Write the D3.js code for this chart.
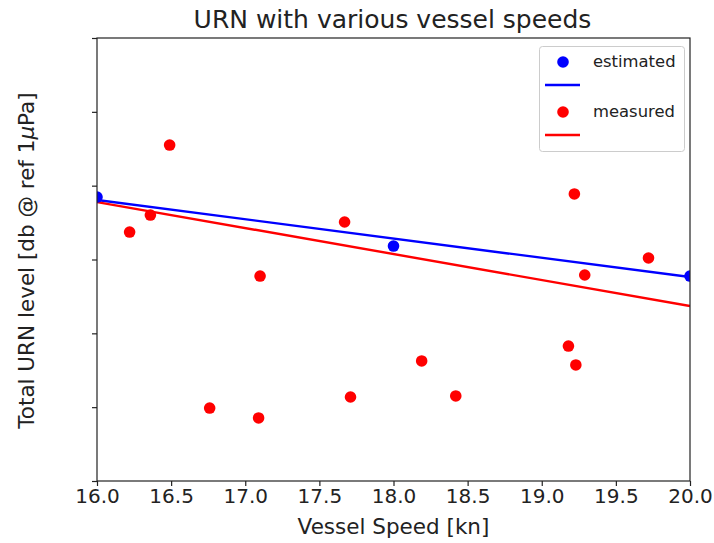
<!DOCTYPE html>
<html><head><meta charset="utf-8">
<script src="https://cdn.jsdelivr.net/npm/d3@7"></script>
<style>
body{margin:0;background:#fff;}
text{font-family:"DejaVu Sans",sans-serif;fill:#222;}
</style></head>
<body><svg id="c" width="714" height="543"></svg>
<script>
const estSpeed = [16.0, 18.0, 20.0];
const estLevel = [129.23, 125.91, 123.88];
const measSpeed = [16.22, 16.36, 16.49, 16.76, 17.09, 17.10, 17.67, 17.71, 18.19, 18.42, 19.18, 19.22, 19.23, 19.29, 19.72];
const measLevel = [126.86, 128.01, 132.75, 114.94, 114.27, 123.88, 127.54, 115.69, 118.13, 115.76, 119.14, 129.44, 117.86, 123.95, 125.10];
const estFitX = [16.0, 20.0];
const estFitY = [129.03, 123.81];
const measFitX = [16.0, 20.0];
const measFitY = [128.89, 121.85];
const xTicks = [16.0, 16.5, 17.0, 17.5, 18.0, 18.5, 19.0, 19.5, 20.0];
const yTicks = [110, 115, 120, 125, 130, 135, 140];
const seriesNames = ["estimated", "measured"];
const seriesColors = ["#0000ff", "#ff0000"];

const L = 97, R = 690, T = 38, B = 481;
const svg = d3.select("#c");
const x = d3.scaleLinear().domain([16, 20]).range([L, R]);
const y = d3.scaleLinear().domain([110, 140]).range([B, T]);

svg.append("defs").append("clipPath").attr("id", "clip")
  .append("rect").attr("x", L).attr("y", T).attr("width", R - L).attr("height", B - T);

const plot = svg.append("g").attr("clip-path", "url(#clip)");
const line = d3.line().x(d => x(d[0])).y(d => y(d[1]));

plot.append("path").datum(d3.zip(estFitX, estFitY)).attr("d", line)
  .attr("fill", "none").attr("stroke", seriesColors[0]).attr("stroke-width", 2.4);
plot.append("path").datum(d3.zip(measFitX, measFitY)).attr("d", line)
  .attr("fill", "none").attr("stroke", seriesColors[1]).attr("stroke-width", 2.4);

plot.selectAll("circle.e").data(d3.zip(estSpeed, estLevel)).join("circle")
  .attr("class", "e").attr("cx", d => x(d[0])).attr("cy", d => y(d[1])).attr("r", 5.8)
  .attr("fill", seriesColors[0]);
plot.selectAll("circle.m").data(d3.zip(measSpeed, measLevel)).join("circle")
  .attr("class", "m").attr("cx", d => x(d[0])).attr("cy", d => y(d[1])).attr("r", 5.8)
  .attr("fill", seriesColors[1]);

// axes frame
svg.append("rect").attr("x", L).attr("y", T).attr("width", R - L).attr("height", B - T)
  .attr("fill", "none").attr("stroke", "#222").attr("stroke-width", 1.2);

const xa = svg.append("g").attr("transform", `translate(0,${B})`)
  .call(d3.axisBottom(x).tickValues(xTicks).tickFormat(d3.format(".1f")).tickSizeOuter(0).tickSize(5).tickPadding(3));
xa.select(".domain").remove();
xa.selectAll("line").attr("stroke", "#222").attr("stroke-width", 1.2);
xa.selectAll("text").attr("font-size", 20).attr("fill", "#222").style("font-family", "DejaVu Sans");

const ya = svg.append("g").attr("transform", `translate(${L},0)`)
  .call(d3.axisLeft(y).tickValues(yTicks).tickFormat("").tickSizeOuter(0).tickSize(5));
ya.select(".domain").remove();
ya.selectAll("line").attr("stroke", "#222").attr("stroke-width", 1.2);

// title and labels
svg.append("text").attr("x", (L + R) / 2 - 1).attr("y", 28).attr("text-anchor", "middle")
  .attr("font-size", 25).text("URN with various vessel speeds");
svg.append("text").attr("x", (L + R) / 2).attr("y", 534).attr("text-anchor", "middle")
  .attr("font-size", 21.5).text("Vessel Speed [kn]");
const yl = svg.append("text").attr("transform", `translate(34,${(T + B) / 2 + 1}) rotate(-90)`)
  .attr("text-anchor", "middle").attr("font-size", 21.5);
yl.append("tspan").text("Total URN level [db @ ref 1");
yl.append("tspan").attr("font-style", "italic").text("μ");
yl.append("tspan").text("Pa]");

// legend
const lg = svg.append("g");
lg.append("rect").attr("x", 539.5).attr("y", 46.5).attr("width", 145).attr("height", 105).attr("rx", 3)
  .attr("fill", "#fff").attr("fill-opacity", 0.8).attr("stroke", "#ccc");
seriesNames.forEach((n, i) => {
  const oy = 62 + i * 50;
  lg.append("circle").attr("cx", 563).attr("cy", oy).attr("r", 5.8).attr("fill", seriesColors[i]);
  lg.append("text").attr("x", 593).attr("y", oy + 5).attr("font-size", 16.4).text(n);
  lg.append("line").attr("x1", 545).attr("x2", 580).attr("y1", oy + 23).attr("y2", oy + 23)
    .attr("stroke", seriesColors[i]).attr("stroke-width", 2.4);
});
</script></body></html>
